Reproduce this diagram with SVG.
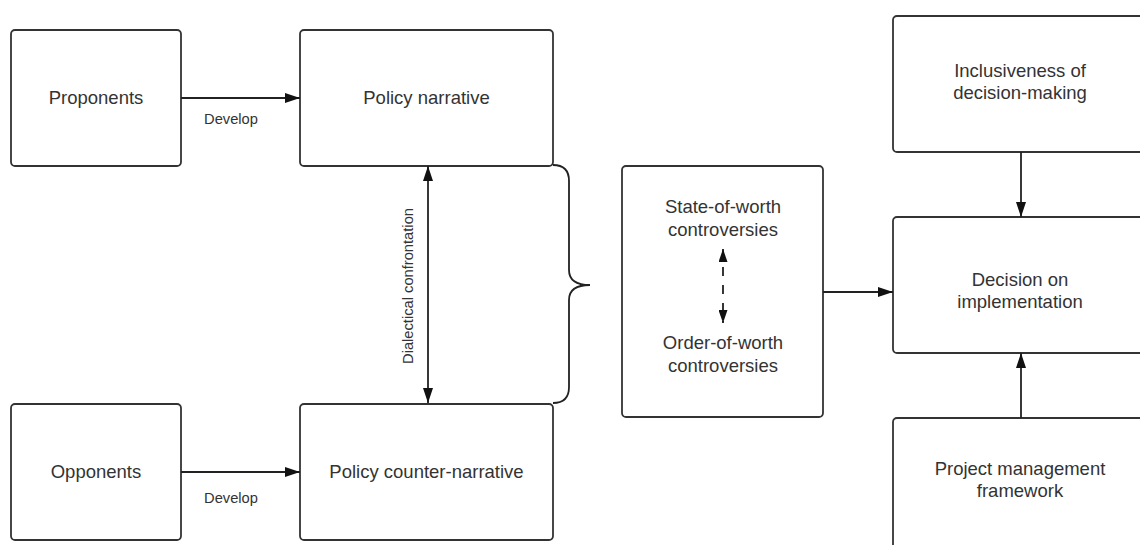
<svg xmlns="http://www.w3.org/2000/svg" width="1140" height="545" viewBox="0 0 1140 545">
<style>
.box{fill:#fff;stroke:#333;stroke-width:1.8}
.t{font-family:"Liberation Sans",Arial,sans-serif;font-size:18.5px;fill:#333;text-anchor:middle}
.s{font-family:"Liberation Sans",Arial,sans-serif;font-size:14.7px;fill:#333;text-anchor:middle}
.c{fill:none;stroke:#222;stroke-width:1.8}
</style>
<defs>
<marker id="ah" viewBox="0 0 15 10" refX="15" refY="5" markerWidth="15" markerHeight="10" markerUnits="userSpaceOnUse" orient="auto-start-reverse">
<path d="M0,0 L15,5 L0,10 Z" fill="#111"/>
</marker>
<marker id="ahs" viewBox="0 0 13 9" refX="13" refY="4.5" markerWidth="13" markerHeight="9" markerUnits="userSpaceOnUse" orient="auto-start-reverse">
<path d="M0,0 L13,4.5 L0,9 Z" fill="#111"/>
</marker>
</defs>
<rect width="1140" height="545" fill="#fff"/>
<g id="proponents">
<rect class="box" x="11" y="30" width="170" height="136" rx="4"/>
<text class="t" x="96" y="104">Proponents</text>
</g>
<g id="policy-narrative">
<rect class="box" x="300" y="30" width="253" height="136" rx="4"/>
<text class="t" x="426.5" y="104">Policy narrative</text>
</g>
<g id="opponents">
<rect class="box" x="11" y="404" width="170" height="136" rx="4"/>
<text class="t" x="96" y="478">Opponents</text>
</g>
<g id="policy-counter-narrative">
<rect class="box" x="300" y="404" width="253" height="136" rx="4"/>
<text class="t" x="426.5" y="478">Policy counter-narrative</text>
</g>
<g id="controversies">
<rect class="box" x="622" y="166" width="201" height="251" rx="4"/>
<text class="t" x="723" y="213">State-of-worth</text>
<text class="t" x="723" y="236">controversies</text>
<text class="t" x="723" y="349">Order-of-worth</text>
<text class="t" x="723" y="372">controversies</text>
</g>
<g id="inclusiveness">
<rect class="box" x="893" y="16" width="262" height="136" rx="4"/>
<text class="t" x="1020" y="77">Inclusiveness of</text>
<text class="t" x="1020" y="99">decision-making</text>
</g>
<g id="decision">
<rect class="box" x="893" y="217" width="262" height="136" rx="4"/>
<text class="t" x="1020" y="286">Decision on</text>
<text class="t" x="1020" y="308">implementation</text>
</g>
<g id="project-management">
<rect class="box" x="893" y="418" width="262" height="140" rx="4"/>
<text class="t" x="1020" y="475">Project management</text>
<text class="t" x="1020" y="497">framework</text>
</g>
<g id="connectors">
<line class="c" x1="181" y1="98" x2="300" y2="98" marker-end="url(#ah)"/>
<line class="c" x1="181" y1="472" x2="300" y2="472" marker-end="url(#ah)"/>
<line class="c" x1="428" y1="166" x2="428" y2="403" marker-start="url(#ah)" marker-end="url(#ah)"/>
<path class="c" d="M553,165 Q569,165 569,181 L569,270 Q569,285 590,285 Q569,285 569,300 L569,387 Q569,403 553,403"/>
<line class="c" x1="723" y1="249" x2="723" y2="323" stroke-dasharray="9,9" marker-start="url(#ahs)" marker-end="url(#ahs)"/>
<line class="c" x1="823" y1="292" x2="893" y2="292" marker-end="url(#ah)"/>
<line class="c" x1="1021" y1="152" x2="1021" y2="217" marker-end="url(#ah)"/>
<line class="c" x1="1021" y1="418" x2="1021" y2="353" marker-end="url(#ah)"/>
<text class="s" x="231" y="124">Develop</text>
<text class="s" x="231" y="503">Develop</text>
<text class="s" transform="translate(413,286) rotate(-90)">Dialectical confrontation</text>
</g>
</svg>
